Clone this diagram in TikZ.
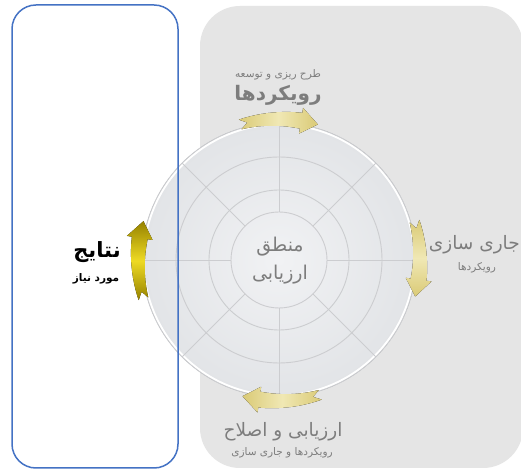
\documentclass[tikz,border=0pt]{standalone}
\usepackage{fontspec}
\usetikzlibrary{calc}
\newfontfamily\arabicfont[Script=Arabic]{DejaVu Sans}
\TeXXeTstate=1
\definecolor{bgray}{RGB}{229,229,229}
\definecolor{ringgray}{RGB}{204,205,208}
\definecolor{discin}{RGB}{241,242,244}
\definecolor{discout}{RGB}{226,228,231}
\definecolor{txtgray}{RGB}{125,125,125}
\definecolor{boxblue}{RGB}{68,114,196}
\definecolor{goldpale}{RGB}{218,202,118}
\definecolor{goldlight}{RGB}{240,232,180}
\definecolor{golddark}{RGB}{150,130,0}
\definecolor{goldbright}{RGB}{238,218,35}
\tikzset{
  lbl/.style={inner sep=0pt, text=txtgray},
  bigtxt/.style={lbl, font=\arabicfont\fontsize{18.5}{22}\selectfont},
  smalltxt/.style={lbl, font=\arabicfont\fontsize{10.5}{13}\selectfont},
  midtxt/.style={lbl, font=\arabicfont\fontsize{19}{22}\selectfont},
  ring/.style={draw=ringgray, line width=.9pt},
}
% curved arrow round the disc: tail angle, tip angle, fill
\newcommand\cyclearrow[3]{%
  \pgfmathsetmacro\hb{#2+7}%
  \pgfmathsetmacro\tn{#1-3}%
  \fill[shift={(C)},#3] plot[domain=#1:\hb,samples=12] (\x:{146+3*(#1-\x)/(#1-\hb)})
    -- (\hb:154) -- (#2:141) -- (\hb:128)
    -- plot[domain=\hb:#1,samples=12] (\x:{136-3*(#1-\x)/(#1-\hb)})
    -- (\tn:141) -- cycle;}

\begin{document}
\begin{tikzpicture}[x=1pt,y=1pt]
\useasboundingbox (0,0) rectangle (521,470);
\clip (0,0) rectangle (521,470);
\fill[white] (0,0) rectangle (521,470);
\fill[bgray,rounded corners=40pt] (200,2) rectangle (523,464);

% the disc
\coordinate (C) at (279,210);
\fill[inner color=discin,outer color=discout] (C) circle (137);
\draw[white,line width=2pt] (C) circle (135.5);
\draw[ring] (C) circle (137);
\foreach \r in {103,70,48}
  \draw[ring] (C) circle (\r);
\foreach \a in {0,45,...,315}
  \draw[ring] ($(C)+(\a:48)$) -- ($(C)+(\a:137)$);

% arrows
\cyclearrow{106}{74}{left color=goldpale,right color=goldpale,middle color=goldlight}
\cyclearrow{16}{-15}{top color=goldpale,bottom color=goldpale,middle color=goldlight}
\cyclearrow{-73}{-105}{left color=goldpale,right color=goldpale,middle color=goldlight}
\cyclearrow{196}{164}{top color=golddark,bottom color=golddark,middle color=goldbright}

% labels
\node[smalltxt] (plan1) at (278,395) {\beginR طرح ریزی و توسعه\endR};
\node[bigtxt,font=\arabicfont\bfseries\fontsize{20}{24}\selectfont] (plan2) at (278,375) {\beginR رویکردها\endR};
\node[bigtxt,anchor=east] (run1) at (520,225) {\beginR جاری سازی\endR};
\node[smalltxt] (run2) at (477,202) {\beginR رویکردها\endR};
\node[bigtxt] (eval1) at (283,38) {\beginR ارزیابی و اصلاح\endR};
\node[smalltxt] (eval2) at (282,17) {\beginR رویکردها و جاری سازی\endR};
\node[lbl,text=black,font=\arabicfont\bfseries\fontsize{21}{24}\selectfont] (res1) at (97,218) {\beginR نتایج\endR};
\node[lbl,text=black,font=\arabicfont\bfseries\fontsize{10.5}{13}\selectfont] (res2) at (96,191) {\beginR مورد نیاز\endR};
\node[midtxt] (mid1) at (280,223) {\beginR منطق\endR};
\node[midtxt] (mid2) at (280,195) {\beginR ارزیابی\endR};

\draw[boxblue,line width=1.5pt,rounded corners=24pt] (12,2) rectangle (178,465);
\end{tikzpicture}
\end{document}
